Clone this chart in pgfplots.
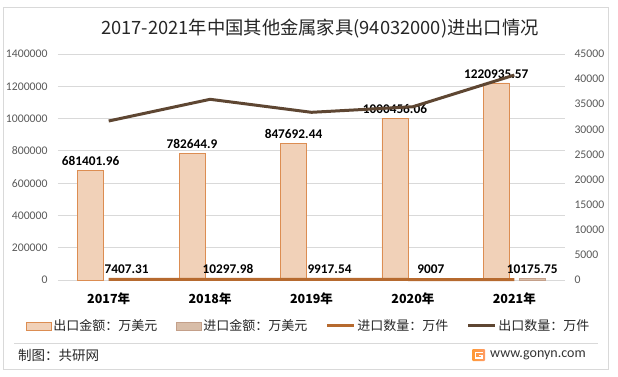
\documentclass[border=0pt]{standalone}
\usepackage{pgfplots}
\pgfplotsset{compat=1.18}
\usepackage{fontspec}
\setmainfont{Carlito}
\newfontfamily\cjk{Noto Sans CJK SC}
\definecolor{expfill}{HTML}{F1D1B8}
\definecolor{expedge}{HTML}{DC8D52}
\definecolor{impfill}{HTML}{D8BDA8}
\definecolor{impedge}{HTML}{C4A08A}
\definecolor{expline}{HTML}{5E4632}
\definecolor{impline}{HTML}{B66A2F}
\definecolor{gridc}{HTML}{D9D9D9}
\definecolor{tickc}{HTML}{595959}
\pgfplotsset{
  barleg/.style={legend image code/.code={\draw[##1] (0pt,-4pt) rectangle (25pt,4pt);}},
  lineleg/.style={legend image code/.code={\draw[##1] (0pt,0pt) -- (27pt,0pt);}},
}
\pgfplotstableread{
x y lab
0 681401.96 681401.96
1 782644.9 782644.9
2 847692.44 847692.44
3 1000456.06 1000456.06
4 1220935.57 1220935.57
}\expamt
\pgfplotstableread{
x y lab
0 7407.31 7407.31
1 10297.98 10297.98
2 9917.54 9917.54
3 9007 9007
4 10175.75 10175.75
}\impamt
\pgfplotstableread{
x y
0 31660
1 35980
2 33390
3 34500
4 40800
}\expqty
\pgfplotstableread{
x y
0 120
1 130
2 110
3 100
4 90
}\impqty
\begin{document}
\begin{tikzpicture}[x=1pt,y=1pt]
\path[use as bounding box] (0,0) rectangle (618,376);
\draw[gridc, line width=0.8pt] (3,7) rectangle (608,369);
\node[text=black!85] at (320,347) {\cjk\fontsize{18.3}{20}\selectfont 2017-2021年中国其他金属家具(94032000)进出口情况};
\begin{axis}[
  at={(58pt,96pt)}, anchor=south west,
  width=507pt, height=226pt, scale only axis,
  ybar, bar width=26pt, ybar=10pt,
  xmin=-0.5, xmax=4.5, ymin=0, ymax=1400000,
  xtick={0,1,2,3,4},
  xticklabels={2017年,2018年,2019年,2020年,2021年},
  xticklabel style={font=\cjk\bfseries\fontsize{12.5}{13}\selectfont, text=black, yshift=-9pt},
  ytick={0,200000,...,1400000},
  scaled y ticks=false,
  yticklabel style={/pgf/number format/fixed, /pgf/number format/1000 sep={}, /pgf/number format/assume math mode=true, font=\fontsize{11.7}{13}\selectfont, text=tickc, xshift=-7pt},
  ymajorgrids, grid style={gridc, line width=0.8pt},
  axis line style={draw=none},
  tick style={draw=none},
  major tick length=0pt,
  clip=false,
  point meta=explicit symbolic,
  nodes near coords,
  every node near coord/.append style={font=\bfseries\fontsize{13.3}{14}\selectfont, text=black, yshift=1pt},
]
\addplot[fill=expfill, draw=expedge, line width=0.8pt] table[x=x,y=y,meta=lab] {\expamt};
\addplot[fill=impfill, draw=impedge, line width=0.8pt] table[x=x,y=y,meta=lab] {\impamt};
\end{axis}
\begin{axis}[
  at={(58pt,96pt)}, anchor=south west,
  width=507pt, height=226pt, scale only axis,
  xmin=-0.5, xmax=4.5, ymin=0, ymax=45000,
  axis y line*=right, axis x line=none,
  ytick={0,5000,...,45000},
  scaled y ticks=false,
  yticklabel style={/pgf/number format/fixed, /pgf/number format/1000 sep={}, /pgf/number format/assume math mode=true, font=\fontsize{11.7}{13}\selectfont, text=tickc, xshift=6pt},
  axis line style={draw=none},
  tick style={draw=none},
  major tick length=0pt,
  clip=false,
  legend columns=4,
  legend style={at={(0.494,-0.2035)}, anchor=center, draw=none, fill=none,
    font=\cjk\fontsize{13}{15}\selectfont, text=black!85,
    nodes={inner sep=1.5pt},
    /tikz/every even column/.append style={column sep=17pt},
    inner sep=0pt},
]
\addlegendimage{barleg, fill=expfill, draw=expedge, line width=0.8pt}
\addlegendentry{出口金额：万美元}
\addlegendimage{barleg, fill=impfill, draw=impedge, line width=0.8pt}
\addlegendentry{进口金额：万美元}
\addplot[lineleg, impline, line width=3pt, no marks] table[x=x,y=y] {\impqty};
\addlegendentry{进口数量：万件}
\addplot[lineleg, expline, line width=3pt, no marks] table[x=x,y=y] {\expqty};
\addlegendentry{出口数量：万件}
\end{axis}
\draw[gridc, line width=0.8pt] (14,33) -- (598,33);
\node[anchor=west, inner sep=0pt, text=black!85] at (18,21) {\cjk\fontsize{13.5}{15}\selectfont 制图：共研网};
\shade[left color=orange!80, right color=red!30!orange!60, rounded corners=1pt] (472,15) rectangle (485,27);
\draw[white, line width=1.4pt] (483,23.5) -- (475.5,23.5) -- (475.5,18) -- (482,18) -- (482,20.5) -- (479,20.5);
\node[anchor=west, inner sep=0pt, text=black!80] at (490,21) {\fontsize{14}{16}\selectfont www.gonyn.com};
\end{tikzpicture}
\end{document}
